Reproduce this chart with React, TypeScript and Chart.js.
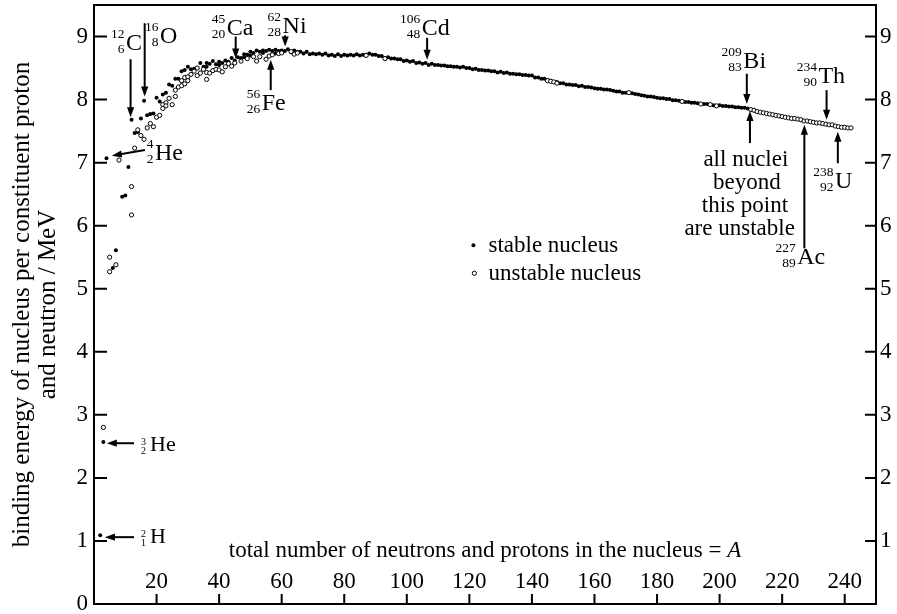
import React, { useEffect, useRef } from 'react';
import { Chart, registerables } from 'chart.js';

Chart.register(...registerables);

const SERIF = "'Liberation Serif', 'Times New Roman', Times, serif";

// ---------- data (A = nucleon number, B = binding energy per nucleon / MeV) ----------
const stableA = [
  2, 3, 4, 6, 7, 9, 10, 11, 12, 13, 14, 15, 16, 17, 18, 19, 20, 21, 22, 23, 24, 25, 26, 27, 28, 29, 30,
  31, 32, 33, 34, 35, 36, 36, 37, 38, 39, 40, 40, 41, 42, 43, 44, 45, 46, 47, 48, 48, 49, 50, 50,
  51, 52, 53, 54, 54, 55, 56, 57, 58, 58, 59, 60, 61, 62, 63, 64, 64, 65, 66, 67, 68, 69,
  70, 71, 72, 73, 74, 75, 76, 77, 78, 79, 80, 81, 82, 83, 84, 85, 86, 87, 88, 89,
  90, 91, 92, 93, 94, 95, 96, 97, 98, 99, 100, 101, 102, 103, 104, 105, 106, 107, 108, 109,
  110, 111, 112, 113, 114, 115, 116, 117, 118, 119, 120, 121, 122, 123, 124, 125, 126, 127, 128, 129,
  130, 131, 132, 133, 134, 135, 136, 137, 138, 139, 140, 141, 142, 143, 144, 145, 146, 148, 149,
  150, 151, 152, 153, 154, 155, 156, 157, 158, 159, 160, 161, 162, 163, 164, 165, 166, 167, 168, 169,
  170, 172, 173, 174, 175, 176, 177, 178, 179, 180, 181, 182, 183, 184, 185, 186, 187, 189,
  190, 191, 192, 193, 195, 196, 198, 200, 201, 202, 203, 204, 205, 206, 207, 208, 209,
];
const stableB = [
  1.09, 2.57, 7.07, 5.33, 5.61, 6.46, 6.48, 6.93, 7.68, 7.47, 7.48, 7.70, 7.98, 7.75, 7.77, 7.78, 8.03, 7.97, 8.08, 8.11, 8.24, 8.22, 8.33, 8.33, 8.45, 8.47, 8.52,
  8.48, 8.49, 8.50, 8.58, 8.52, 8.52, 8.58, 8.57, 8.61, 8.56, 8.55, 8.60, 8.58, 8.62, 8.60, 8.66, 8.62, 8.67, 8.66, 8.72, 8.67, 8.71, 8.76, 8.70,
  8.74, 8.78, 8.76, 8.78, 8.74, 8.77, 8.79, 8.77, 8.79, 8.73, 8.77, 8.78, 8.77, 8.80, 8.75, 8.78, 8.74, 8.76, 8.76, 8.73, 8.76, 8.72,
  8.73, 8.72, 8.73, 8.71, 8.73, 8.70, 8.71, 8.69, 8.72, 8.69, 8.71, 8.70, 8.71, 8.70, 8.72, 8.70, 8.71, 8.71, 8.73, 8.71,
  8.71, 8.69, 8.69, 8.66, 8.67, 8.65, 8.65, 8.64, 8.64, 8.61, 8.62, 8.60, 8.61, 8.58, 8.59, 8.57, 8.58, 8.55, 8.57, 8.55,
  8.55, 8.54, 8.54, 8.53, 8.53, 8.52, 8.52, 8.51, 8.52, 8.50, 8.50, 8.48, 8.49, 8.47, 8.47, 8.46, 8.46, 8.45, 8.45, 8.43,
  8.44, 8.42, 8.43, 8.41, 8.41, 8.40, 8.40, 8.39, 8.39, 8.38, 8.38, 8.35, 8.35, 8.33, 8.33, 8.31, 8.30, 8.28, 8.26,
  8.26, 8.24, 8.24, 8.23, 8.23, 8.21, 8.22, 8.20, 8.20, 8.19, 8.18, 8.17, 8.17, 8.16, 8.16, 8.15, 8.14, 8.13, 8.13, 8.11,
  8.11, 8.10, 8.09, 8.08, 8.07, 8.06, 8.05, 8.05, 8.04, 8.03, 8.02, 8.02, 8.01, 8.01, 7.99, 7.99, 7.98, 7.96,
  7.96, 7.95, 7.95, 7.94, 7.93, 7.93, 7.91, 7.91, 7.90, 7.90, 7.89, 7.89, 7.88, 7.88, 7.87, 7.87, 7.86,
];

const unstableA = [
  3, 5, 5, 7, 8, 12, 12, 13, 14, 15, 16, 17, 18, 19, 20, 21, 22, 22, 23, 23, 24, 25, 26, 26, 27, 28, 28, 29, 29, 30, 30,
  31, 32, 33, 33, 34, 35, 36, 36, 37, 38, 39, 40, 41, 42, 43, 44, 45, 47, 49, 51, 52, 53, 55, 56, 57, 59, 60, 63, 64, 65,
  87, 93, 145, 146, 147, 148, 171, 188, 194, 197, 199,
  210, 211, 212, 213, 214, 215, 216, 217, 218, 219, 220, 221, 222, 223, 224, 225, 226,
  227, 228, 229, 230, 231, 232, 233, 234, 235, 236, 237, 238, 239, 240, 241, 242,
];
const unstableB = [
  2.80, 5.50, 5.27, 5.38, 7.04, 6.62, 6.17, 7.23, 7.52, 7.43, 7.37, 7.55, 7.62, 7.57, 7.72, 7.75, 7.92, 7.86, 7.95, 7.90, 8.02, 7.92, 8.05, 8.15, 8.20, 8.30, 8.22, 8.25, 8.35, 8.36, 8.30,
  8.40, 8.45, 8.50, 8.38, 8.42, 8.48, 8.32, 8.43, 8.42, 8.46, 8.48, 8.47, 8.44, 8.52, 8.57, 8.53, 8.58, 8.61, 8.65, 8.68, 8.61, 8.68, 8.64, 8.69, 8.71, 8.73, 8.74, 8.76, 8.72, 8.74,
  8.70, 8.65, 8.30, 8.29, 8.28, 8.26, 8.11, 7.97, 7.93, 7.92, 7.90,
  7.84, 7.83, 7.81, 7.80, 7.79, 7.78, 7.77, 7.76, 7.75, 7.74, 7.73, 7.72, 7.71, 7.70, 7.70, 7.69, 7.68,
  7.66, 7.66, 7.65, 7.64, 7.63, 7.63, 7.62, 7.61, 7.60, 7.60, 7.58, 7.57, 7.56, 7.56, 7.55, 7.55,
];

const xTickValues = [20, 40, 60, 80, 100, 120, 140, 160, 180, 200, 220, 240];
const yTickValues = [0, 1, 2, 3, 4, 5, 6, 7, 8, 9];
const yRightTickValues = [1, 2, 3, 4, 5, 6, 7, 8, 9];

const yTitleLines = ['binding energy of nucleus per constituent proton', 'and neutron / MeV'];
const xTitleText = 'total number of neutrons and protons in the nucleus = ';
const xTitleVar = 'A';
const legendLabels = ['stable nucleus', 'unstable nucleus'];
const noteLines = ['all nuclei', 'beyond', 'this point', 'are unstable'];

// nuclide labels: position (A, B) of symbol's left baseline
const nuclides = [
  { a: 17.9, b: 0.97, mass: '2', z: '1', sym: 'H', small: true },
  { a: 17.9, b: 2.43, mass: '3', z: '2', sym: 'He', small: true },
  { a: 19.5, b: 7.04, mass: '4', z: '2', sym: 'He', small: false },
  { a: 10.2, b: 8.79, mass: '12', z: '6', sym: 'C', small: false },
  { a: 21.1, b: 8.89, mass: '16', z: '8', sym: 'O', small: false },
  { a: 42.4, b: 9.03, mass: '45', z: '20', sym: 'Ca', small: false },
  { a: 60.3, b: 9.06, mass: '62', z: '28', sym: 'Ni', small: false },
  { a: 53.6, b: 7.84, mass: '56', z: '26', sym: 'Fe', small: false },
  { a: 104.8, b: 9.03, mass: '106', z: '48', sym: 'Cd', small: false },
  { a: 207.6, b: 8.50, mass: '209', z: '83', sym: 'Bi', small: false },
  { a: 231.6, b: 8.26, mass: '234', z: '90', sym: 'Th', small: false },
  { a: 224.8, b: 5.40, mass: '227', z: '89', sym: 'Ac', small: false },
  { a: 236.9, b: 6.59, mass: '238', z: '92', sym: 'U', small: false },
];

// arrows: tail (A, B) -> tip (A, B)
const arrows = [
  { a1: 12.8, b1: 1.06, a2: 3.5, b2: 1.06 },
  { a1: 12.8, b1: 2.55, a2: 4.1, b2: 2.55 },
  { a1: 16.3, b1: 7.20, a2: 5.7, b2: 7.11 },
  { a1: 11.7, b1: 8.64, a2: 11.7, b2: 7.72 },
  { a1: 16.2, b1: 9.21, a2: 16.2, b2: 8.05 },
  { a1: 45.3, b1: 9.00, a2: 45.3, b2: 8.65 },
  { a1: 61.1, b1: 9.02, a2: 61.1, b2: 8.84 },
  { a1: 56.5, b1: 8.15, a2: 56.5, b2: 8.63 },
  { a1: 106.5, b1: 8.98, a2: 106.5, b2: 8.63 },
  { a1: 208.7, b1: 8.41, a2: 208.7, b2: 7.93 },
  { a1: 209.7, b1: 7.31, a2: 209.7, b2: 7.82 },
  { a1: 227.1, b1: 5.64, a2: 227.1, b2: 7.60 },
  { a1: 234.2, b1: 8.15, a2: 234.2, b2: 7.68 },
  { a1: 237.8, b1: 6.99, a2: 237.8, b2: 7.49 },
];

function drawArrow(ctx: CanvasRenderingContext2D, x1: number, y1: number, x2: number, y2: number) {
  const ang = Math.atan2(y2 - y1, x2 - x1);
  const head = 10;
  const w = 3.6;
  ctx.lineWidth = 2;
  ctx.beginPath();
  ctx.moveTo(x1, y1);
  ctx.lineTo(x2 - Math.cos(ang) * head * 0.7, y2 - Math.sin(ang) * head * 0.7);
  ctx.stroke();
  ctx.beginPath();
  ctx.moveTo(x2, y2);
  ctx.lineTo(x2 - head * Math.cos(ang) + w * Math.sin(ang), y2 - head * Math.sin(ang) - w * Math.cos(ang));
  ctx.lineTo(x2 - head * Math.cos(ang) - w * Math.sin(ang), y2 - head * Math.sin(ang) + w * Math.cos(ang));
  ctx.closePath();
  ctx.fill();
}

const overlay = {
  id: 'overlay',
  afterDraw(chart: any) {
    const { ctx, chartArea } = chart;
    const xs = chart.scales.x;
    const ys = chart.scales.y;
    const X = (a: number) => xs.getPixelForValue(a);
    const Y = (b: number) => ys.getPixelForValue(b);
    const { left, right, top, bottom } = chartArea;
    ctx.save();
    ctx.fillStyle = '#000';
    ctx.strokeStyle = '#000';

    // frame
    ctx.lineWidth = 2;
    ctx.strokeRect(left, top, right - left, bottom - top);

    // inward tick marks
    ctx.beginPath();
    yTickValues.forEach((v) => {
      if (v === 0) return;
      ctx.moveTo(left, Y(v));
      ctx.lineTo(left + 13, Y(v));
    });
    yRightTickValues.forEach((v) => {
      ctx.moveTo(right, Y(v));
      ctx.lineTo(right - 11, Y(v));
    });
    xTickValues.forEach((v) => {
      ctx.moveTo(X(v), bottom);
      ctx.lineTo(X(v), bottom - 10);
    });
    ctx.stroke();

    // arrows
    arrows.forEach((ar) => drawArrow(ctx, X(ar.a1), Y(ar.b1), X(ar.a2), Y(ar.b2)));

    // nuclide labels
    ctx.textBaseline = 'alphabetic';
    nuclides.forEach((n) => {
      const x = X(n.a);
      const y = Y(n.b);
      const big = n.small ? 22 : 24;
      const sm = n.small ? 10 : 13.5;
      const gap = n.small ? 4 : 1.5;
      const supDy = n.small ? -6 : -12;
      const subDy = 3;
      ctx.font = `${big}px ${SERIF}`;
      ctx.textAlign = 'left';
      ctx.fillText(n.sym, x, y);
      ctx.font = `${sm}px ${SERIF}`;
      ctx.textAlign = 'right';
      ctx.fillText(n.mass, x - gap, y + supDy);
      ctx.fillText(n.z, x - gap, y + subDy);
    });

    // note text
    ctx.font = `23px ${SERIF}`;
    ctx.textAlign = 'center';
    const noteA = [208.4, 208.7, 208.1, 206.4];
    const noteB = [6.94, 6.58, 6.22, 5.85];
    noteLines.forEach((t, i) => ctx.fillText(t, X(noteA[i]), Y(noteB[i])));

    // legend
    ctx.beginPath();
    ctx.arc(X(121.3), Y(5.69), 2.0, 0, Math.PI * 2);
    ctx.fill();
    ctx.beginPath();
    ctx.arc(X(121.6), Y(5.245), 2.1, 0, Math.PI * 2);
    ctx.fillStyle = '#fff';
    ctx.fill();
    ctx.lineWidth = 1;
    ctx.stroke();
    ctx.fillStyle = '#000';
    ctx.textAlign = 'left';
    ctx.fillText(legendLabels[0], X(126.1), Y(5.59));
    ctx.fillText(legendLabels[1], X(126.1), Y(5.14));

    // x title (inside plot)
    ctx.font = `23px ${SERIF}`;
    const w1 = ctx.measureText(xTitleText).width;
    ctx.font = `italic 23px ${SERIF}`;
    const w2 = ctx.measureText(xTitleVar).width;
    const xStart = X(125) - (w1 + w2) / 2;
    ctx.font = `23px ${SERIF}`;
    ctx.fillText(xTitleText, xStart, Y(0.745));
    ctx.font = `italic 23px ${SERIF}`;
    ctx.fillText(xTitleVar, xStart + w1, Y(0.745));

    // y title
    ctx.font = `25px ${SERIF}`;
    ctx.textAlign = 'center';
    ctx.textBaseline = 'middle';
    const cy = (top + bottom) / 2;
    [left - 72, left - 46].forEach((x, i) => {
      ctx.save();
      ctx.translate(x, cy);
      ctx.rotate(-Math.PI / 2);
      ctx.fillText(yTitleLines[i], 0, 0);
      ctx.restore();
    });

    ctx.restore();
  },
};

export default function App() {
  const ref = useRef<HTMLCanvasElement | null>(null);
  useEffect(() => {
    document.body.style.margin = '0';
    const canvas = ref.current;
    if (!canvas) return;
    const tickFont = { family: SERIF, size: 23 };
    const chart = new Chart(canvas, {
      type: 'scatter',
      data: {
        datasets: [
          {
            label: legendLabels[1],
            data: unstableA.map((a, i) => ({ x: a, y: unstableB[i] })),
            pointRadius: 2.1,
            pointBorderWidth: 1,
            pointBackgroundColor: '#fff',
            pointBorderColor: '#000',
            showLine: false,
          },
          {
            label: legendLabels[0],
            data: stableA.map((a, i) => ({ x: a, y: stableB[i] })),
            pointRadius: 2.0,
            pointBorderWidth: 0,
            pointBackgroundColor: '#000',
            pointBorderColor: '#000',
            showLine: false,
          },
        ],
      },
      options: {
        responsive: false,
        animation: false,
        devicePixelRatio: 1,
        events: [],
        layout: { padding: { top: 5, left: 0, right: 0, bottom: 0 } },
        plugins: { legend: { display: false }, tooltip: { enabled: false } },
        scales: {
          x: {
            type: 'linear',
            position: 'bottom',
            min: 0,
            max: 250,
            grid: { display: false, drawTicks: false },
            border: { display: false },
            ticks: { mirror: true, padding: 8, font: tickFont, color: '#000', maxRotation: 0, autoSkip: false },
            afterBuildTicks: (s: any) => { s.ticks = xTickValues.map((v) => ({ value: v })); },
            afterFit: (s: any) => { s.height = 10; s.paddingLeft = 0; s.paddingRight = 0; },
          },
          y: {
            type: 'linear',
            position: 'left',
            min: 0,
            max: 9.5,
            grid: { display: false, drawTicks: false },
            border: { display: false },
            ticks: { padding: 6, font: tickFont, color: '#000', autoSkip: false },
            afterBuildTicks: (s: any) => { s.ticks = yTickValues.map((v) => ({ value: v })); },
            afterFit: (s: any) => { s.width = 94; s.paddingTop = 0; s.paddingBottom = 0; },
          },
          y2: {
            type: 'linear',
            position: 'right',
            min: 0,
            max: 9.5,
            grid: { display: false, drawTicks: false },
            border: { display: false },
            ticks: { padding: 4, font: tickFont, color: '#000', autoSkip: false },
            afterBuildTicks: (s: any) => { s.ticks = yRightTickValues.map((v) => ({ value: v })); },
            afterFit: (s: any) => { s.width = 21; s.paddingTop = 0; s.paddingBottom = 0; },
          },
        },
      } as any,
      plugins: [overlay],
    });
    return () => chart.destroy();
  }, []);
  return (
    <div style={{ width: 897, height: 614, background: '#fff' }}>
      <canvas ref={ref} width={897} height={614} style={{ display: 'block' }} />
    </div>
  );
}
